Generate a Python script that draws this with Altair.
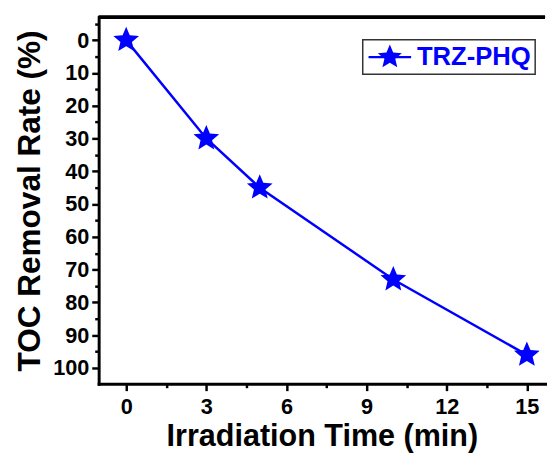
import math
import altair as alt
import pandas as pd

# ---- data ----
series_name = "TRZ-PHQ"
time_min = [0, 3, 5, 10, 15]
toc_removal = [0, 30, 45, 73, 96]
x_tick_values = [0, 1.5, 3, 4.5, 6, 7.5, 9, 10.5, 12, 13.5, 15]
y_tick_values = [-5, 0, 5, 10, 15, 20, 25, 30, 35, 40, 45, 50, 55, 60, 65, 70, 75, 80, 85, 90, 95, 100]

df = pd.DataFrame({"time": time_min, "toc": toc_removal, "series": [series_name] * len(time_min)})

FONT = "Liberation Sans"
BLUE = "#0000ff"


def star_path(R, ratio):
    pts = []
    for i in range(10):
        a = math.radians(-90 + 36 * i)
        r = R if i % 2 == 0 else R * ratio
        pts.append((r * math.cos(a), r * math.sin(a)))
    return "M" + "L".join(f"{x:.3f},{y:.3f}" for x, y in pts) + "Z"


point_shape = star_path(1.0, 0.45)
legend_shape = "M-1.6,-0.09L1.6,-0.09L1.6,0.09L-1.6,0.09Z" + star_path(0.95, 0.45)

W, H = 453, 372

x_axis = alt.Axis(
    title="Irradiation Time (min)", values=x_tick_values,
    labelExpr="datum.value % 3 === 0 ? datum.label : ''",
    tickSize={"condition": {"test": "datum.value % 3 === 0", "value": 7}, "value": 4},
    grid=False, labelOverlap=False, labelFlush=False,
    labelFont=FONT, labelFontSize=22, labelFontWeight="bold", labelColor="black", labelPadding=6,
    titleFont=FONT, titleFontSize=31, titleFontWeight="bold", titleColor="black", titlePadding=5,
    domainColor="black", domainWidth=3, domainCap="square", tickColor="black", tickWidth=2.5,
)
y_axis = alt.Axis(
    title="TOC Removal Rate (%)", values=y_tick_values,
    labelExpr="datum.value >= 0 && datum.value % 10 === 0 ? datum.label : ''",
    tickSize={"condition": {"test": "datum.value % 10 === 0", "value": 7}, "value": 4},
    grid=False, labelOverlap=False, labelFlush=False,
    labelFont=FONT, labelFontSize=22, labelFontWeight="bold", labelColor="black", labelPadding=3,
    titleFont=FONT, titleFontSize=32, titleFontWeight="bold", titleColor="black", titlePadding=6,
    domainColor="black", domainWidth=3, domainCap="square", tickColor="black", tickWidth=2.5,
)

x_enc = alt.X("time:Q", axis=x_axis, scale=alt.Scale(domain=[-1.03, 15.68], nice=False, zero=False))
y_enc = alt.Y("toc:Q", axis=y_axis, scale=alt.Scale(domain=[-7, 104.8], reverse=True, nice=False, zero=False))

line = alt.Chart(df).mark_line(color=BLUE, strokeWidth=2.5).encode(x=x_enc, y=y_enc)

points = alt.Chart(df).mark_point(shape=point_shape, size=750, filled=True, opacity=1, strokeWidth=0).encode(
    x=x_enc, y=y_enc,
    color=alt.Color("series:N", scale=alt.Scale(range=[BLUE]), legend=alt.Legend(
        title=None, orient="none", legendX=268, legendY=23,
        symbolType=legend_shape, symbolSize=729, symbolFillColor=BLUE, symbolStrokeWidth=0,
        symbolOffset=10, labelOffset=14,
        labelFont=FONT, labelFontSize=26, labelFontWeight="bold", labelColor=BLUE,
        strokeColor="#333333", fillColor="white", padding=4,
    )),
)

top_border = alt.Chart(df).mark_rule(color="black", strokeWidth=3).encode(
    x=alt.value(0), x2=alt.value(W), y=alt.value(0)
)

chart = alt.layer(line, points, top_border).properties(
    width=W, height=H,
    padding={"left": 92, "top": 6, "right": 2, "bottom": 69},
    autosize=alt.AutoSizeParams(type="none"),
).configure_view(stroke="transparent").configure_legend(strokeWidth=1.5)

chart.save("out.html", embed_options={"renderer": "svg", "actions": False})
